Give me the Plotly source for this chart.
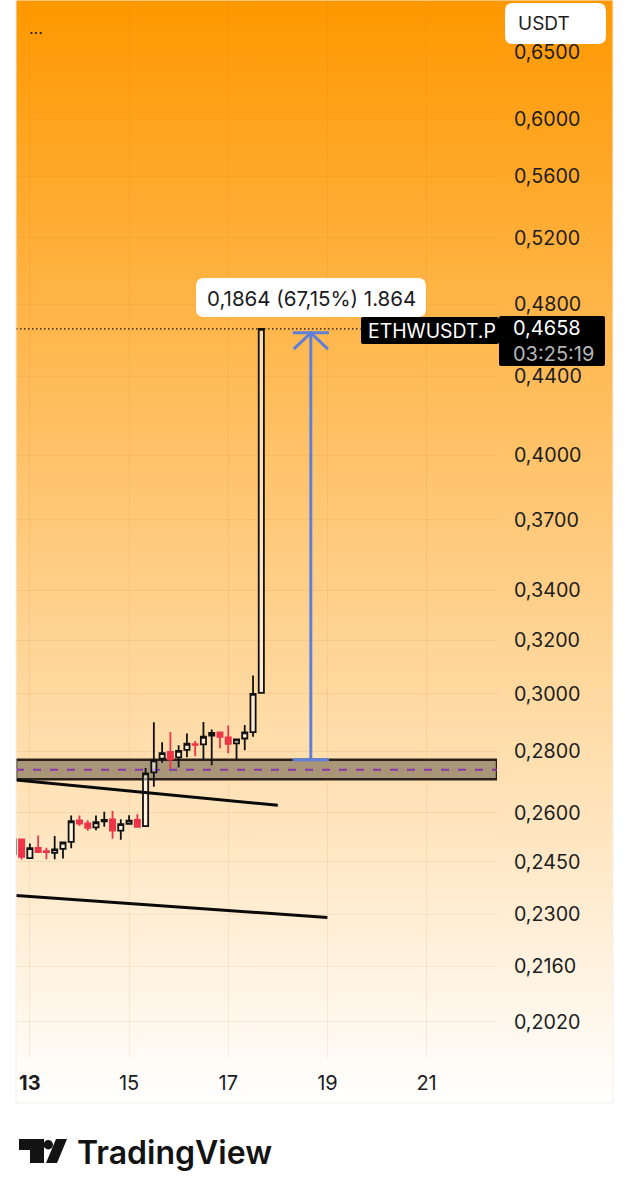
import base64
import plotly.graph_objects as go

# 4h candles, x is day of month
days = [12.667, 12.833, 13.0, 13.167, 13.333, 13.5, 13.667, 13.833, 14.0, 14.167, 14.333,
        14.5, 14.667, 14.833, 15.0, 15.167, 15.333, 15.5, 15.667, 15.833, 16.0,
        16.167, 16.333, 16.5, 16.667, 16.833, 17.0, 17.167, 17.333, 17.5, 17.667]
opens = [.2473, .2517, .2461, .2492, .2482, .2477, .2489, .2510, .2576, .2566, .2554,
         .2573, .2579, .2544, .2565, .2577, .2558, .2729, .2775, .2797, .2779,
         .2804, .2824, .2823, .2853, .2864, .2847, .2826, .2843, .2865, .3004]
highs = [.2520, .2519, .2505, .2529, .2492, .2528, .2511, .2591, .2591, .2576, .2591,
         .2603, .2605, .2579, .2592, .2595, .2744, .2899, .2830, .2865, .2820,
         .2860, .2834, .2900, .2874, .2864, .2888, .2843, .2890, .3067, .4658]
lows = [.2470, .2457, .2459, .2479, .2458, .2458, .2460, .2491, .2559, .2544, .2545,
        .2556, .2519, .2516, .2563, .2556, .2556, .2682, .2761, .2743, .2745,
        .2779, .2783, .2770, .2753, .2810, .2793, .2770, .2803, .2849, .3002]
closes = [.2517, .2465, .2491, .2479, .2479, .2487, .2508, .2573, .2566, .2553, .2570,
          .2577, .2544, .2564, .2575, .2556, .2726, .2769, .2793, .2772, .2801,
          .2825, .2821, .2849, .2862, .2849, .2825, .2840, .2864, .3000, .4658]

price_ticks = [.65, .6, .56, .52, .48, .44, .4, .37, .34, .32, .3, .28, .26, .245, .23, .216, .202]
price_labels = ["0,6500", "0,6000", "0,5600", "0,5200", "0,4800", "0,4400", "0,4000", "0,3700", "0,3400",
                "0,3200", "0,3000", "0,2800", "0,2600", "0,2450", "0,2300", "0,2160", "0,2020"]
day_ticks = [13, 15, 17, 19, 21]
day_labels = ["<b>13</b>", "15", "17", "19", "21"]

x_start, x_end = 12.72, 22.42
last_price = .4658
band_top, band_mid, band_bottom = .2771, .2738, .2707
trend1_x, trend1_y = [12.72, 18.0], [.2704, .2623]
trend2_x, trend2_y = [12.72, 19.0], [.2353, .2291]
measure_x = [18.30, 19.03, None, 18.665, 18.665, None, 18.32, 18.665, 19.01, None, 18.30, 19.03]
measure_y = [.4636, .4636, None, .4636, .2771, None, .4546, .4636, .4546, None, .2771, .2771]

W, H = 629, 1199
LEFT, RIGHT, BOTTOM = 16, 497, 1058
TEXT = "#1c1c1e"
FONT = "Inter"
GRID = "rgba(190,110,20,0.10)"


def px(x):
    return (x - LEFT) / (RIGHT - LEFT)


def py(y):
    return 1 - y / BOTTOM


def rounded(x0, y0, x1, y1, r):
    pts = [("M", x0 + r, y0), ("L", x1 - r, y0), ("Q", x1, y0, x1, y0 + r), ("L", x1, y1 - r),
           ("Q", x1, y1, x1 - r, y1), ("L", x0 + r, y1), ("Q", x0, y1, x0, y1 - r), ("L", x0, y0 + r),
           ("Q", x0, y0, x0 + r, y0)]
    out = ""
    for p in pts:
        out += p[0]
        vals = p[1:]
        out += " ".join(f"{px(vals[i]):.5f},{py(vals[i + 1]):.5f}" for i in range(0, len(vals), 2)) + " "
    return out + "Z"


def box(x0, y0, x1, y1, r, color):
    return dict(type="path", xref="paper", yref="paper", path=rounded(x0, y0, x1, y1, r),
                fillcolor=color, line=dict(width=0), layer="above")


def poly(points, color="#131313"):
    d = "M" + " L".join(f"{px(a):.5f},{py(b):.5f}" for a, b in points) + " Z"
    return dict(type="path", xref="paper", yref="paper", path=d, fillcolor=color, line=dict(width=0), layer="above")


def label(x, y, text, size, color=TEXT, anchor="left", weight=None, family=FONT):
    return dict(xref="paper", yref="paper", x=px(x), y=py(y), text=text, showarrow=False, xanchor=anchor,
                yanchor="middle", align="left", font=dict(size=size, color=color, family=family, weight=weight))


grad = ('<svg xmlns="http://www.w3.org/2000/svg" width="597" height="1103" preserveAspectRatio="none">'
        '<defs><linearGradient id="g" x1="0" y1="0" x2="0" y2="1"><stop offset="0" stop-color="#ff9800"/>'
        '<stop offset="1" stop-color="#ffffff"/></linearGradient></defs>'
        '<rect width="597" height="1103" fill="url(#g)"/></svg>')
grad_uri = "data:image/svg+xml;base64," + base64.b64encode(grad.encode()).decode()

fig = go.Figure()

fig.add_trace(go.Scatter(x=[x_start, 19.67], y=[last_price, last_price], mode="lines",
                         line=dict(color="#111111", width=1.2, dash="1.5px,2.5px"), hoverinfo="skip"))

fig.add_trace(go.Candlestick(x=days, open=opens, high=highs, low=lows, close=closes,
                             whiskerwidth=0,
                             increasing=dict(line=dict(color="#111111", width=1.8),
                                             fillcolor="rgba(255,255,255,0.5)"),
                             decreasing=dict(line=dict(color="#ee3448", width=1.8), fillcolor="#ee3448")))

fig.add_trace(go.Scatter(x=trend1_x, y=trend1_y, mode="lines", line=dict(color="#0a0a0a", width=3), hoverinfo="skip"))
fig.add_trace(go.Scatter(x=trend2_x, y=trend2_y, mode="lines", line=dict(color="#0a0a0a", width=3), hoverinfo="skip"))
fig.add_trace(go.Scatter(x=measure_x, y=measure_y, mode="lines", line=dict(color="#5f80d8", width=3),
                         hoverinfo="skip", connectgaps=False))

shapes = [
    # support band sits under the candles
    dict(type="rect", xref="x", yref="y", x0=x_start, x1=x_end, y0=band_bottom, y1=band_top,
         fillcolor="#a99679", line=dict(color="#2b2118", width=2.5), layer="below"),
    dict(type="line", xref="x", yref="y", x0=x_start, x1=x_end, y0=band_mid, y1=band_mid,
         line=dict(color="#8a35a8", width=2, dash="8px,9px"), layer="below"),
    # frame round the chart
    dict(type="rect", xref="paper", yref="paper", x0=px(16), x1=px(613), y0=py(0), y1=py(1103),
         line=dict(color="#f2efec", width=1), layer="above"),
    box(505, 3, 606, 44, 8, "white"),
    box(196, 278, 426, 317, 8, "white"),
    box(361, 317, 499, 344, 2, "black"),
    box(499, 316, 605, 366, 2, "black"),
    # TradingView mark
    poly([(19, 1139), (44, 1139), (44, 1163), (30, 1163), (30, 1150), (19, 1150)]),
    poly([(56, 1139), (67, 1139), (57, 1163), (46, 1163)]),
    dict(type="circle", xref="paper", yref="paper", x0=px(43.5), x1=px(53), y0=py(1140), y1=py(1149.5),
         fillcolor="#131313", line=dict(width=0), layer="above"),
]

annotations = [
    label(27, 28, "...", 16),
    label(516, 24, "USDT", 19),
    label(311, 298, "0,1864 (67,15%) 1.864", 20.5, anchor="center"),
    label(432, 331, "ETHWUSDT.P", 19.4, color="white", anchor="center"),
    label(511, 341, "0,4658<br><span style='color:#b4b4b4'>03:25:19</span>", 20, color="white"),
    label(75, 1152, "TradingView", 32, color="#131313", weight=600),
]

fig.update_layout(
    width=W, height=H, autosize=False, showlegend=False, boxgap=0.1,
    margin=dict(l=LEFT, r=W - RIGHT, t=0, b=H - BOTTOM, pad=0),
    paper_bgcolor="white", plot_bgcolor="rgba(0,0,0,0)",
    font=dict(family=FONT, color=TEXT),
    shapes=shapes, annotations=annotations,
    images=[dict(source=grad_uri, xref="paper", yref="paper", x=px(16), y=py(0), sizex=597 / (RIGHT - LEFT),
                 sizey=1103 / BOTTOM, xanchor="left", yanchor="top", sizing="stretch", layer="below")],
    xaxis=dict(range=[x_start, x_end], tickvals=day_ticks, ticktext=day_labels, rangeslider=dict(visible=False),
               showgrid=True, gridcolor=GRID, gridwidth=1, zeroline=False, showline=False,
               ticks="outside", ticklen=7, tickcolor="rgba(0,0,0,0)", tickfont=dict(size=20, color=TEXT)),
    yaxis=dict(type="log", side="right", range=[-0.7135, -0.1596], tickmode="array", tickvals=price_ticks,
               ticktext=price_labels, showgrid=True, gridcolor=GRID, gridwidth=1,
               zeroline=False, showline=False, ticks="outside", ticklen=12, tickcolor="rgba(0,0,0,0)",
               tickfont=dict(size=19.7, color=TEXT)),
)

fig.write_html("out.html", config=dict(displayModeBar=False),
               post_script="document.body.style.margin='0';document.body.style.overflow='hidden';")
